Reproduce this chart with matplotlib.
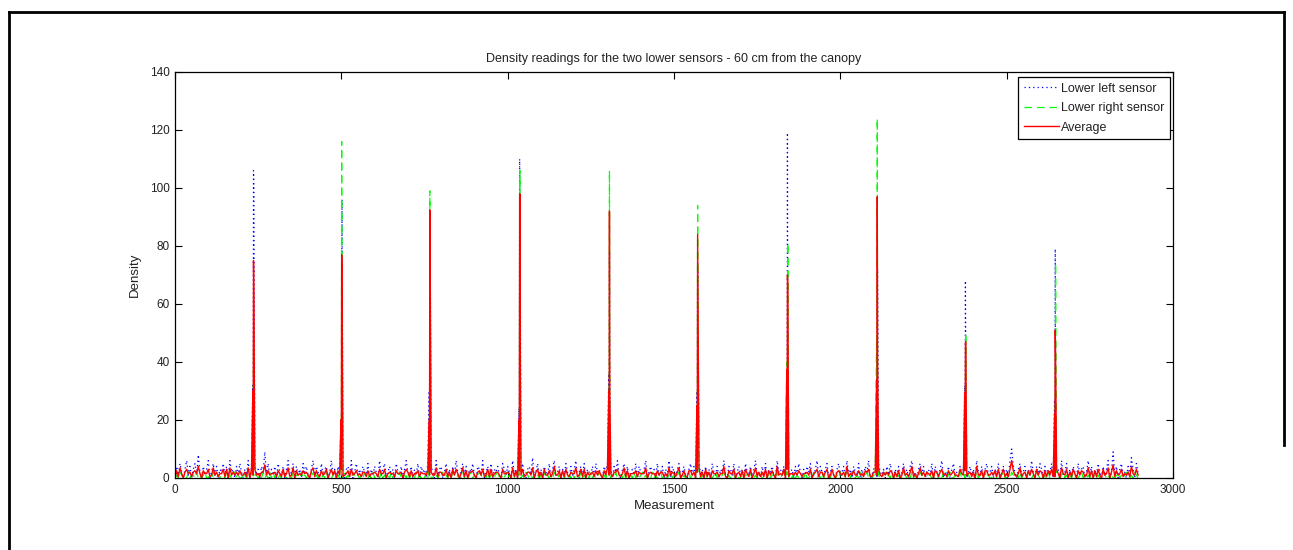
import numpy as np
import matplotlib

matplotlib.use("Agg")
import matplotlib.pyplot as plt
from matplotlib.lines import Line2D

plt.rcParams["font.family"] = ["Liberation Sans", "DejaVu Sans"]

W, H = 1293, 550

# baseline readings, one every 5 measurements (0 .. 2895), 29 per row
base_x = np.arange(0, 2900, 5)
left_base = [
    0, 4, 1, 5, 2, 0, 3, 6, 1, 4, 0, 3, 5, 1, 8, 2, 0, 4, 1, 3, 6, 0, 2, 5, 1, 4, 0, 3, 2,
    5, 1, 4, 0, 6, 2, 3, 0, 4, 1, 5, 2, 0, 3, 1, 6, 0, 4, 2, 5, 1, 3, 0, 4, 2, 9, 1, 5, 0,
    3, 1, 4, 0, 5, 2, 1, 4, 0, 3, 6, 1, 2, 5, 0, 4, 1, 3, 0, 5, 2, 4, 1, 0, 3, 6, 1, 4, 2,
    0, 5, 1, 3, 4, 0, 2, 6, 1, 3, 0, 4, 2, 5, 1, 0, 3, 4, 1, 6, 0, 2, 5, 1, 3, 0, 4, 2, 1,
    5, 0, 3, 1, 4, 2, 0, 6, 1, 3, 5, 0, 2, 4, 1, 3, 0, 5, 2, 1, 4, 0, 3, 6, 2, 1, 4, 0, 3,
    1, 5, 0, 4, 2, 3, 0, 5, 1, 4, 2, 0, 6, 1, 3, 4, 0, 2, 5, 1, 3, 0, 4, 1, 6, 2, 0, 3, 5,
    1, 4, 0, 3, 2, 5, 1, 0, 4, 3, 1, 6, 0, 2, 4, 1, 5, 0, 3, 2, 4, 1, 0, 5, 3, 1, 4, 2, 0,
    6, 1, 3, 0, 4, 2, 5, 1, 0, 3, 4, 1, 7, 0, 2, 5, 1, 3, 0, 4, 2, 1, 5, 0, 3, 6, 1, 2, 4,
    0, 3, 1, 5, 2, 0, 4, 1, 3, 6, 0, 2, 4, 1, 5, 0, 3, 2, 1, 4, 0, 5, 2, 3, 1, 0, 4, 2, 5,
    1, 3, 0, 4, 2, 6, 1, 0, 3, 5, 1, 4, 0, 2, 3, 1, 5, 0, 4, 2, 1, 3, 6, 0, 2, 4, 1, 3, 0,
    5, 1, 2, 4, 0, 3, 1, 6, 0, 4, 2, 1, 3, 5, 0, 2, 4, 1, 0, 3, 5, 1, 4, 0, 2, 6, 1, 3, 0,
    4, 1, 3, 0, 5, 2, 1, 4, 0, 3, 2, 6, 1, 0, 4, 3, 1, 5, 0, 2, 4, 1, 3, 0, 5, 2, 1, 4, 0,
    3, 6, 1, 2, 0, 4, 1, 5, 0, 3, 2, 4, 1, 0, 6, 2, 3, 1, 4, 0, 5, 1, 2, 3, 0, 4, 1, 5, 2,
    0, 3, 1, 4, 2, 5, 0, 1, 3, 6, 0, 4, 2, 1, 3, 5, 0, 2, 4, 1, 0, 3, 5, 1, 2, 4, 0, 6, 1,
    3, 0, 4, 2, 1, 5, 0, 3, 1, 4, 2, 6, 0, 1, 3, 4, 0, 5, 2, 1, 3, 0, 4, 1, 5, 2, 0, 3, 1,
    4, 0, 2, 5, 1, 3, 0, 4, 6, 1, 2, 0, 3, 5, 1, 4, 0, 2, 3, 1, 5, 0, 4, 2, 1, 3, 6, 0, 2,
    1, 4, 0, 3, 5, 1, 2, 0, 4, 3, 1, 5, 0, 2, 4, 1, 3, 0, 6, 2, 1, 4, 0, 3, 5, 1, 2, 4, 0,
    3, 1, 5, 0, 2, 4, 1, 3, 0, 6, 10, 4, 2, 0, 3, 5, 1, 2, 4, 0, 3, 1, 6, 2, 0, 4, 1, 5, 3,
    0, 4, 1, 3, 2, 5, 0, 1, 4, 3, 0, 6, 1, 2, 5, 0, 3, 1, 4, 2, 0, 5, 1, 3, 4, 0, 2, 6, 1,
    4, 0, 3, 1, 5, 2, 0, 4, 1, 3, 6, 0, 2, 9, 1, 4, 0, 3, 5, 1, 2, 0, 4, 1, 7, 3, 0, 5, 2,
]
right_base = [
    0, 1, 0, 2, 1, 0, 1, 0, 2, 0, 1, 1, 0, 2, 0, 1, 0, 1, 2, 0, 0, 1, 0, 2, 1, 0, 1, 0, 1,
    1, 0, 2, 0, 1, 0, 1, 2, 0, 1, 0, 0, 2, 1, 0, 1, 0, 2, 0, 1, 1, 0, 1, 0, 2, 0, 1, 0, 2,
    0, 2, 0, 1, 0, 1, 0, 2, 1, 0, 1, 0, 0, 2, 0, 1, 1, 0, 2, 0, 1, 0, 1, 0, 2, 1, 0, 1, 0,
    1, 0, 1, 0, 2, 0, 1, 0, 1, 2, 0, 1, 0, 1, 0, 2, 0, 1, 0, 0, 2, 1, 0, 1, 0, 1, 0, 2, 0,
    0, 1, 0, 2, 0, 1, 1, 0, 2, 0, 1, 0, 1, 0, 2, 0, 1, 0, 1, 2, 0, 0, 1, 0, 2, 0, 1, 1, 0,
    2, 0, 1, 0, 1, 0, 2, 0, 1, 0, 0, 2, 1, 0, 1, 0, 2, 0, 1, 0, 1, 0, 2, 1, 0, 1, 0, 0, 2,
    0, 1, 0, 1, 2, 0, 1, 0, 0, 2, 1, 0, 1, 0, 2, 0, 1, 1, 0, 2, 0, 1, 0, 1, 0, 2, 0, 1, 0,
    1, 0, 2, 0, 1, 0, 1, 0, 2, 1, 0, 1, 0, 0, 2, 1, 0, 1, 0, 2, 0, 1, 0, 1, 0, 2, 1, 0, 1,
    0, 2, 0, 1, 0, 1, 0, 2, 0, 1, 1, 0, 2, 0, 1, 0, 1, 0, 2, 0, 1, 0, 0, 2, 1, 0, 1, 0, 2,
    1, 0, 1, 0, 2, 0, 1, 1, 0, 2, 0, 1, 0, 1, 0, 2, 0, 1, 0, 1, 2, 0, 1, 0, 1, 0, 2, 0, 1,
    0, 1, 2, 0, 1, 0, 0, 1, 2, 0, 1, 0, 1, 2, 0, 0, 1, 0, 1, 2, 0, 1, 0, 0, 2, 1, 0, 1, 0,
    2, 0, 1, 0, 0, 1, 2, 0, 1, 0, 1, 2, 0, 0, 1, 0, 2, 1, 0, 1, 0, 0, 2, 0, 1, 1, 0, 2, 0,
    0, 1, 0, 2, 1, 0, 0, 1, 0, 2, 0, 1, 1, 0, 2, 0, 0, 1, 2, 0, 1, 0, 1, 0, 2, 0, 1, 0, 1,
    1, 0, 2, 0, 0, 1, 0, 2, 1, 0, 1, 0, 2, 0, 1, 1, 0, 0, 2, 1, 0, 1, 0, 2, 0, 0, 1, 2, 0,
    0, 2, 1, 0, 1, 0, 2, 0, 0, 1, 2, 0, 1, 0, 1, 0, 2, 1, 0, 0, 1, 2, 0, 1, 0, 2, 0, 1, 0,
    1, 0, 0, 2, 1, 0, 1, 0, 2, 0, 1, 0, 0, 2, 1, 0, 1, 2, 0, 1, 0, 0, 1, 2, 0, 1, 0, 2, 1,
    0, 1, 2, 0, 0, 1, 0, 1, 2, 0, 1, 0, 2, 1, 0, 0, 1, 0, 2, 0, 1, 1, 0, 2, 0, 1, 0, 0, 2,
    2, 0, 1, 0, 1, 2, 0, 0, 1, 0, 2, 1, 0, 1, 0, 2, 0, 1, 0, 0, 2, 1, 0, 1, 0, 2, 1, 0, 1,
    0, 1, 0, 2, 0, 1, 1, 0, 2, 0, 0, 1, 2, 0, 1, 0, 1, 0, 2, 1, 0, 0, 1, 2, 0, 1, 0, 1, 0,
    1, 0, 2, 0, 1, 0, 0, 2, 1, 0, 1, 0, 2, 0, 0, 1, 2, 0, 1, 0, 1, 2, 0, 0, 1, 0, 2, 1, 0,
]

# peak readings when the canopy passes
spike_x = [234, 236, 237, 499, 501, 502, 764, 766, 767, 1034, 1036, 1037, 1038,
           1304, 1306, 1307, 1569, 1571, 1572, 1839, 1841, 1842, 2109, 2111, 2112,
           2374, 2376, 2377, 2644, 2646, 2647]
spike_left = [32, 106, 100, 20, 38, 96, 30, 86, 83, 24, 110, 90, 70,
              36, 78, 37, 30, 74, 67, 35, 119, 53, 20, 70, 72,
              32, 68, 44, 27, 79, 12]
spike_right = [28, 44, 28, 20, 116, 50, 10, 99, 71, 16, 86, 106, 16,
               24, 106, 23, 20, 94, 59, 40, 21, 81, 48, 124, 12,
               27, 26, 50, 17, 23, 74]

labels = ["Lower left sensor", "Lower right sensor", "Average"]
title = "Density readings for the two lower sensors - 60 cm from the canopy"

x = np.concatenate([base_x, spike_x])
left = np.concatenate([left_base, spike_left]).astype(float)
right = np.concatenate([right_base, spike_right]).astype(float)
order = np.argsort(x, kind="stable")
x, left, right = x[order], left[order], right[order]
avg = (left + right) / 2

fig = plt.figure(figsize=(W / 100, H / 100), dpi=100)
fig.patch.set_facecolor("white")
ax = fig.add_axes([175 / W, 1 - 478 / H, (1173 - 175) / W, (478 - 72) / H])

ax.plot(x, left, color="#0000ff", lw=0.9, dashes=(1, 2.5), label=labels[0])
ax.plot(x, right, color="#00ff00", lw=0.9, dashes=(6, 4), label=labels[1])
ax.plot(x, avg, "-", color="#ff0000", lw=1.0, label=labels[2])

ax.set_xlim(0, 3000)
ax.set_ylim(0, 140)
ax.set_xticks(range(0, 3001, 500))
ax.set_yticks(range(0, 141, 20))
ax.tick_params(direction="in", top=True, right=True, length=5, width=0.8,
               labelsize=8.5, labelcolor="#222222", pad=4)
for s in ax.spines.values():
    s.set_linewidth(0.9)

txt = "#222222"
ax.set_title(title, fontsize=9, color=txt, pad=7)
ax.set_xlabel("Measurement", fontsize=9.5, color=txt, labelpad=3)
ax.set_ylabel("Density", fontsize=9.5, color=txt, labelpad=6)

leg = ax.legend(loc="upper right", bbox_to_anchor=(1170 / W, 1 - 77 / H),
                bbox_transform=fig.transFigure, borderaxespad=0, fontsize=9,
                fancybox=False, framealpha=1, edgecolor="black", handlelength=2.8,
                handletextpad=0.2, labelspacing=0.6, borderpad=0.45)
leg.get_frame().set_linewidth(0.9)
for t in leg.get_texts():
    t.set_color(txt)

# outer frame around the figure
fx0, fy0, fx1, fy1 = 9 / W, 1 - 12 / H, 1284 / W, 1 - 445 / H
fig.add_artist(Line2D([fx0, fx0], [0, fy0], color="black", lw=2))
fig.add_artist(Line2D([fx0, fx1], [fy0, fy0], color="black", lw=2))
fig.add_artist(Line2D([fx1, fx1], [fy0, fy1], color="black", lw=2))

fig.savefig("out.png", dpi=100, facecolor="white")
